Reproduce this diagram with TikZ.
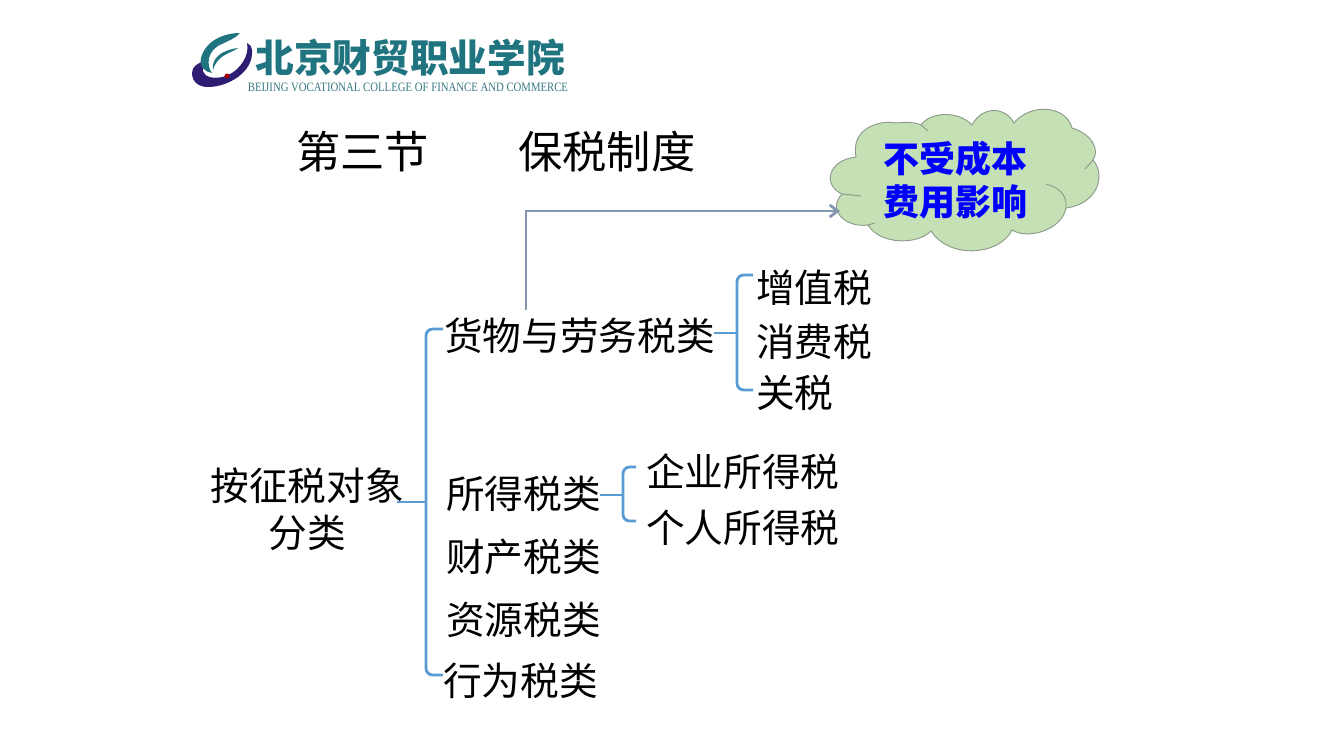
\documentclass[tikz,border=0pt]{standalone}
\usepackage{fontspec}
\setmainfont{Noto Sans CJK SC}
\newfontfamily\logoserif{Liberation Serif}
\usetikzlibrary{arrows.meta}

\definecolor{logoteal}{HTML}{1F7480}
\definecolor{logonavy}{HTML}{2F1C73}
\definecolor{cloudgreen}{HTML}{C5E0B4}
\definecolor{cloudedge}{HTML}{8C9A8C}
\definecolor{bracketblue}{HTML}{5B9BD5}
\definecolor{arrowgray}{HTML}{8497B0}

\tikzset{
  item/.style={inner sep=0pt, font=\fontsize{29pt}{35pt}\selectfont, anchor=west},
  headline/.style={inner sep=0pt, font=\fontsize{33.2pt}{38pt}\selectfont, anchor=west},
  bracket/.style={draw=bracketblue, line width=2.1pt, rounded corners=5pt},
}

\begin{document}
\begin{tikzpicture}[x=0.75pt, y=-0.75pt]
  \useasboundingbox (0,0) rectangle (1333,750);

  % 校徽
  \fill[logonavy] (205,61) .. controls (197,63) and (192,67) .. (192,73) .. controls (192,83) and (200,87) .. (208,87) .. controls (228,87) and (254,72) .. (252,50) .. controls (252,47) and (250,44) .. (247,43) .. controls (250,55) and (240,70) .. (228,75) .. controls (218,80) and (196,80) .. (205,61) -- cycle;
  \fill[logoteal] (240,33) .. controls (222,33) and (205,42) .. (201,58) .. controls (199,67) and (205,72) .. (212,73) .. controls (206,65) and (207,50) .. (222,44) .. controls (228,41) and (236,38) .. (240,33) -- cycle;
  \fill[logoteal] (213,70) .. controls (211,58) and (222,50) .. (238,48) .. controls (230,54) and (218,54) .. (213,70) -- cycle;
  \fill[red!65!black] (227,76) circle (2.5);
  \node[inner sep=0pt, text=logoteal, font=\fontsize{29pt}{30pt}\selectfont\bfseries] (logotext) at (410,58) {北京财贸职业学院};
  \node[inner sep=0pt, text=logoteal!75!gray, font=\logoserif\fontsize{9.6pt}{10pt}\selectfont, xscale=0.84] (logoeng) at (408,87) {BEIJING VOCATIONAL COLLEGE OF FINANCE AND COMMERCE};

  % 标题
  \node[headline] (sec) at (296,152) {第三节};
  \node[headline] (title) at (518,152) {保税制度};

  % 云
  \fill[cloudgreen, draw=cloudedge, line width=0.7pt] (856,157)
    .. controls (850,125) and (885,120) .. (896,123)
    .. controls (905,122) and (915,122) .. (921,125)
    .. controls (930,112) and (958,110) .. (972,125)
    .. controls (982,106) and (1005,106) .. (1014,123)
    .. controls (1030,103) and (1066,105) .. (1072,128)
    .. controls (1092,134) and (1100,150) .. (1093,160)
    .. controls (1106,175) and (1098,204) .. (1066,208)
    .. controls (1062,230) and (1028,240) .. (1012,230)
    .. controls (1000,255) and (950,260) .. (931,231)
    .. controls (918,245) and (880,245) .. (868,225)
    .. controls (845,228) and (827,210) .. (842,194)
    .. controls (822,185) and (828,160) .. (856,157) -- cycle;
  \draw[cloudedge, line width=0.7pt] (921,125) -- (928,131);
  \draw[cloudedge, line width=0.7pt] (1093,160) -- (1085,169);
  \draw[cloudedge, line width=0.7pt] (1066,208) .. controls (1067,195) and (1060,188) .. (1046,184);
  \draw[cloudedge, line width=0.7pt] (868,225) -- (875,223);
  \draw[cloudedge, line width=0.7pt] (842,194) -- (861,196);
  \node[inner sep=0pt, align=center, text=blue, font=\fontsize{27pt}{32.5pt}\selectfont\bfseries] (cloudtext) at (955,180) {不受成本\\费用影响};

  % 分类
  \node[inner sep=0pt, align=center, font=\fontsize{29pt}{35.2pt}\selectfont] (root) at (307,509) {按征税对象\\分类};
  \node[item] (goods) at (444,336) {货物与劳务税类};
  \node[item] (income) at (446,494) {所得税类};
  \node[item] (property) at (446,557) {财产税类};
  \node[item] (resource) at (446,620) {资源税类};
  \node[item] (behavior) at (443,681) {行为税类};

  \node[item] (vat) at (756,288) {增值税};
  \node[item] (excise) at (756,342) {消费税};
  \node[item] (customs) at (756,393) {关税};
  \node[item] (corp) at (646,472) {企业所得税};
  \node[item] (person) at (646,528) {个人所得税};

  % 括号の端点
  \coordinate (rootend) at (397,502);
  \coordinate (rootspine) at (426,502);
  \coordinate (goodstop) at (443,329);
  \coordinate (goodsend) at (714,333);
  \coordinate (behaviortop) at (443,675);
  \coordinate (goodsspine) at (737,333);
  \coordinate (vattop) at (753,275);
  \coordinate (customstop) at (753,390);
  \coordinate (incomeend) at (600,495);
  \coordinate (incomespine) at (623,495);
  \coordinate (corptop) at (636,467);
  \coordinate (persontop) at (636,521);

  \draw[bracket] (goodstop) -| (rootspine) |- (behaviortop);
  \draw[bracket] (rootend) -- (rootspine);
  \draw[bracket] (vattop) -| (goodsspine) |- (customstop);
  \draw[bracket] (goodsend) -- (goodsspine);
  \draw[bracket] (corptop) -| (incomespine) |- (persontop);
  \draw[bracket] (incomeend) -- (incomespine);

  % 矢印
  \coordinate (arrowstart) at (526,310);
  \coordinate (arrowend) at (840,211);
  \draw[draw=arrowgray, line width=2.1pt, -{Straight Barb[length=6pt,width=9pt]}] (arrowstart) |- (arrowend);
\end{tikzpicture}
\end{document}
